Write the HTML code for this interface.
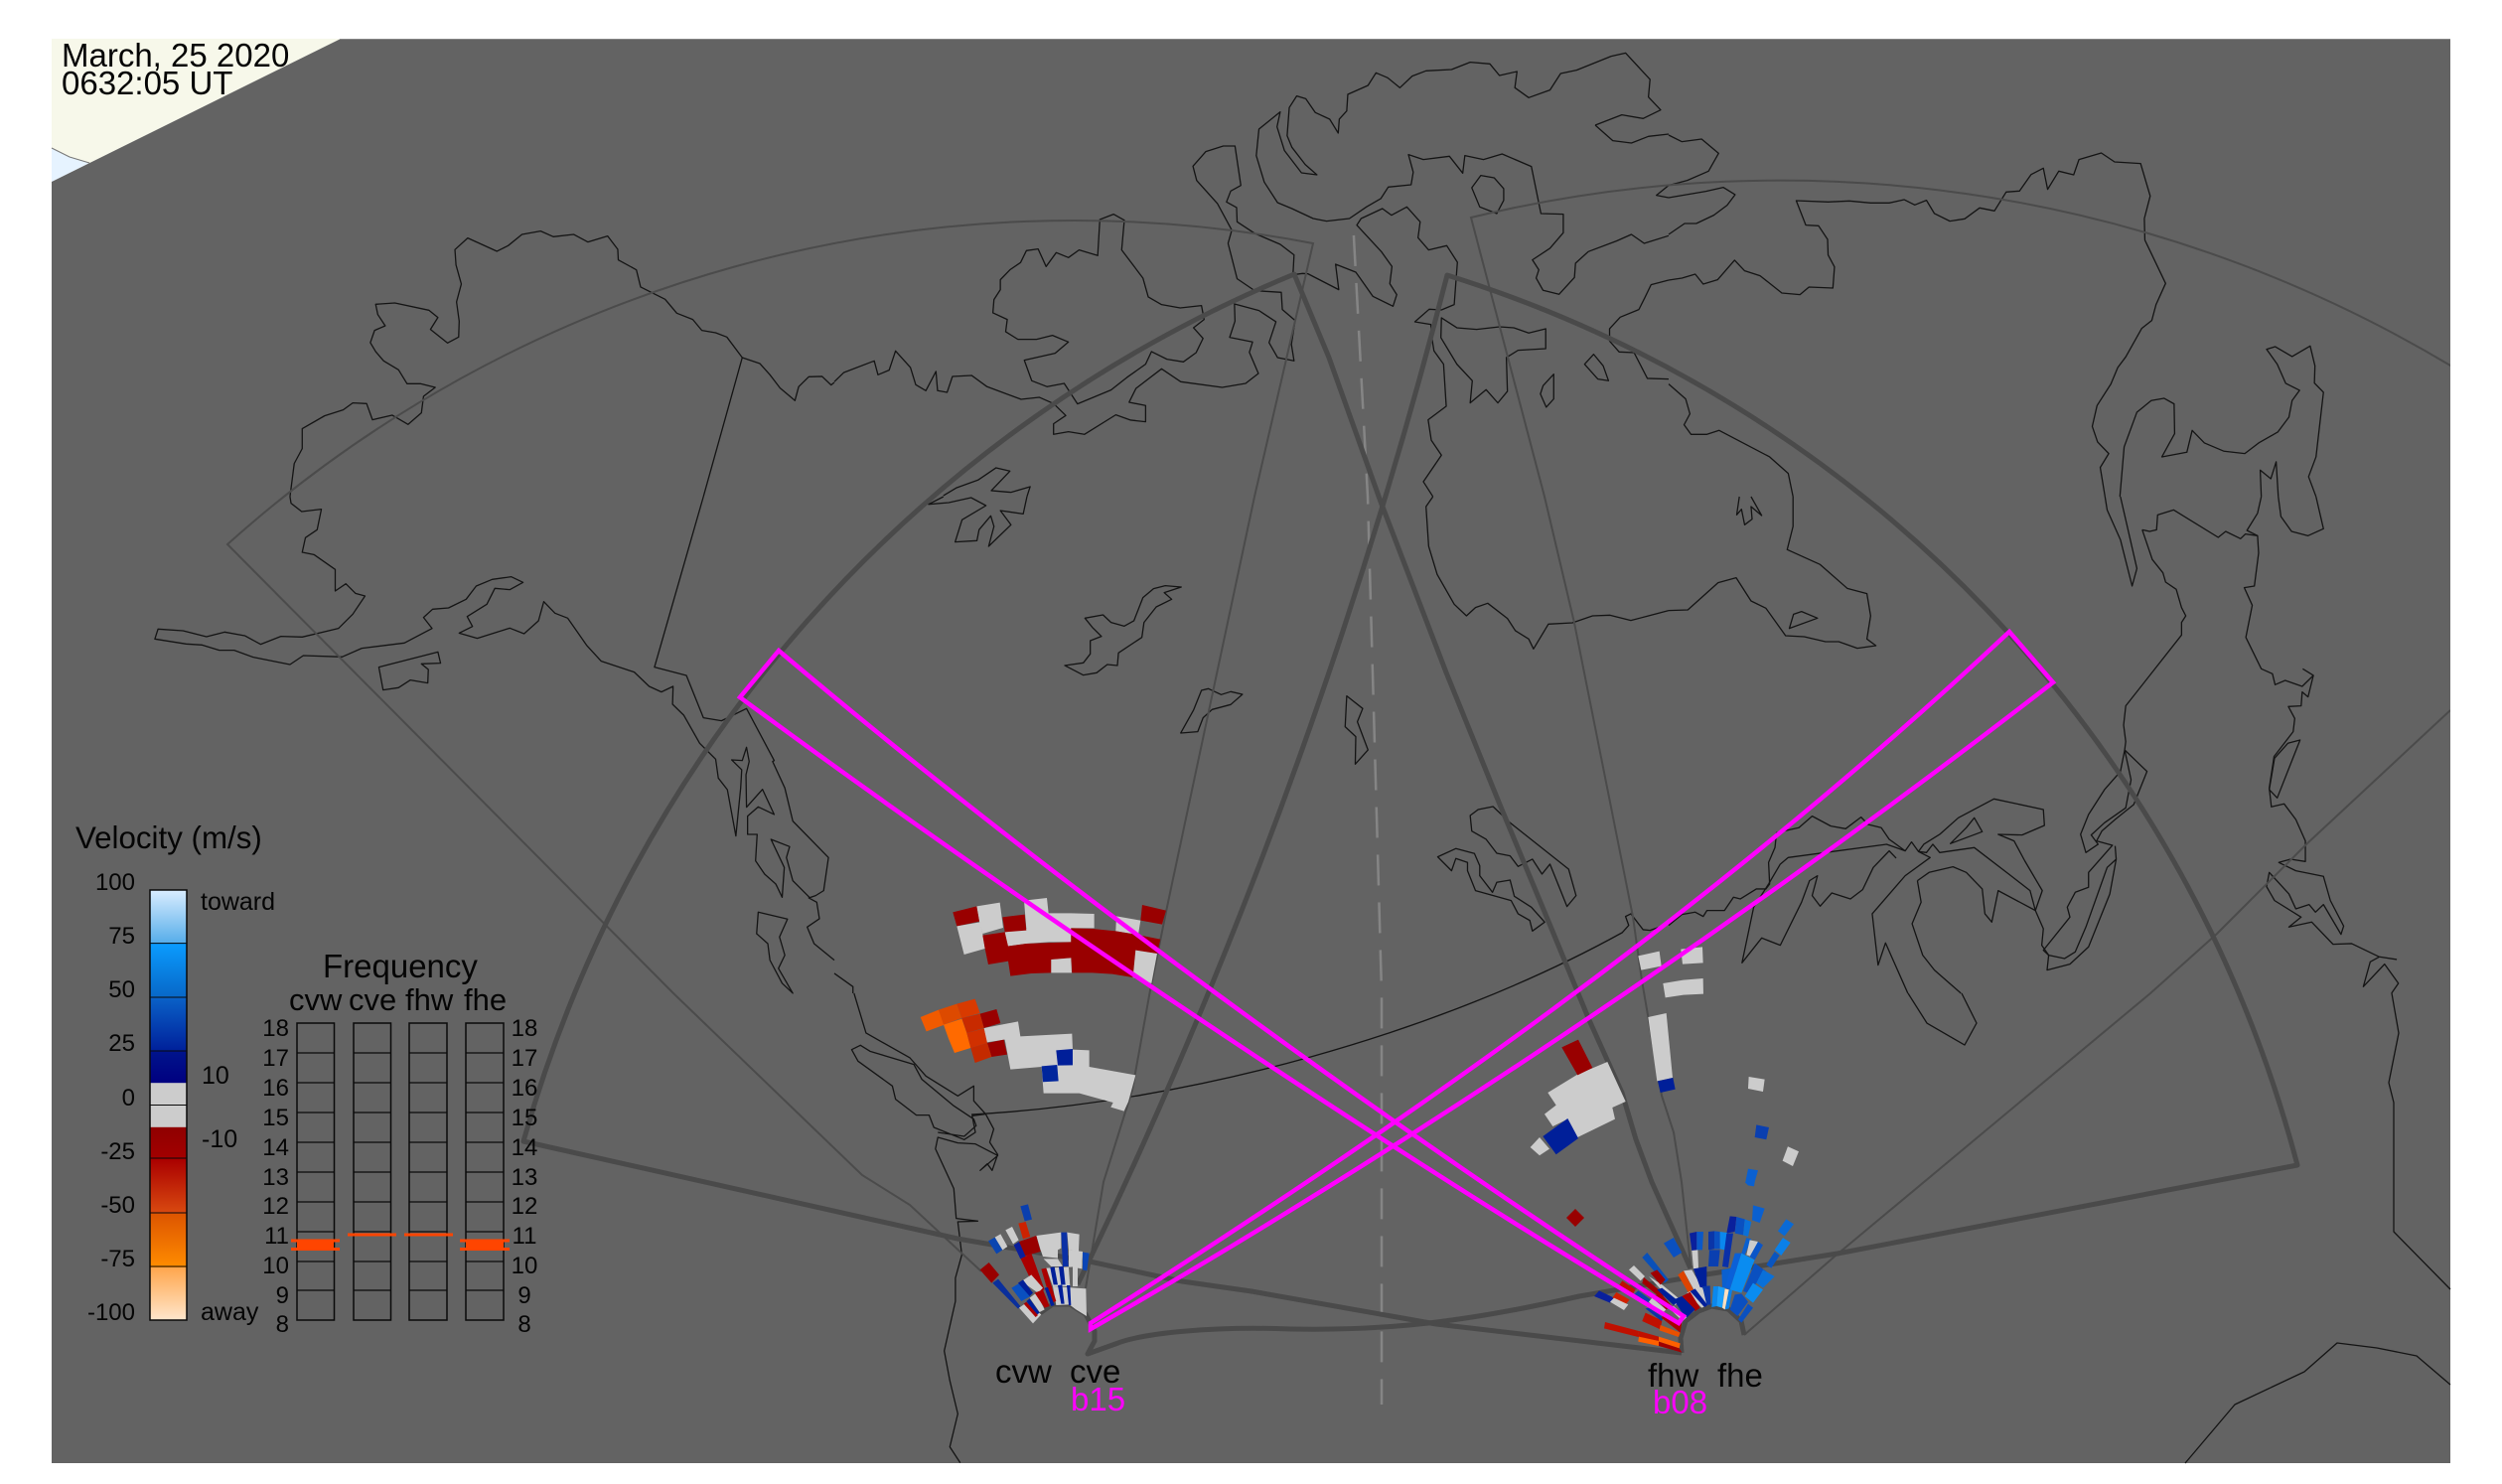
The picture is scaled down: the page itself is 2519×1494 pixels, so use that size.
<!DOCTYPE html>
<html lang="en"><head><meta charset="utf-8"><title>March, 25 2020 0632:05 UT</title>
<style>
html,body{margin:0;padding:0;background:#fff;width:2519px;height:1494px;overflow:hidden}
svg{display:block}
text{font-family:"Liberation Sans",sans-serif;fill:#050505}
.c polyline,.c polygon,.c path{fill:none;stroke:#141414;stroke-width:1.3;vector-effect:non-scaling-stroke;stroke-linejoin:round}
.th{fill:none;stroke:#4a4a4a;stroke-width:5;stroke-linejoin:round}
.tn{fill:none;stroke:#4b4b4b;stroke-width:2}
.m{fill:none;stroke:#ff00ff;stroke-width:4.500;stroke-linejoin:miter}
.box{fill:none;stroke:#0a0a0a;stroke-width:1.5}
</style></head><body>
<svg width="2519" height="1494" viewBox="0 0 2519 1494" xmlns="http://www.w3.org/2000/svg">
<defs>
<linearGradient id="cb" gradientUnits="userSpaceOnUse" x1="0" y1="896" x2="0" y2="1329">
<stop offset="0" stop-color="#d9edff"/><stop offset=".122" stop-color="#58aeea"/>
<stop offset=".123" stop-color="#0a9cff"/><stop offset=".248" stop-color="#0868c8"/>
<stop offset=".249" stop-color="#0a62c8"/><stop offset=".374" stop-color="#00209a"/>
<stop offset=".375" stop-color="#00148c"/><stop offset=".448" stop-color="#000080"/>
<stop offset=".449" stop-color="#cccccc"/><stop offset=".551" stop-color="#cccccc"/>
<stop offset=".552" stop-color="#8f0000"/><stop offset=".625" stop-color="#a30000"/>
<stop offset=".626" stop-color="#aa0000"/><stop offset=".752" stop-color="#d94a10"/>
<stop offset=".753" stop-color="#dd5500"/><stop offset=".877" stop-color="#ff8c00"/>
<stop offset=".878" stop-color="#ffa64d"/><stop offset="1" stop-color="#ffe6cc"/>
</linearGradient>
<clipPath id="pl"><rect x="52" y="39" width="2415" height="1434"/></clipPath>
</defs>
<rect width="2519" height="1494" fill="#fff"/>
<polygon points="52,39 343,39 52,183" fill="#f7f8ea"/>
<polygon points="52,149 70,158 90,164 52,183" fill="#e6f3ff"/>
<polyline points="52,149 70,158 90,164" fill="none" stroke="#777" stroke-width="1"/>
<polygon points="343,39 2467,39 2467,1473 52,1473 52,183" fill="#636363"/>
<line x1="343" y1="39.5" x2="2467" y2="39.5" stroke="#858585" stroke-width="1"/>

<!-- coastlines -->
<g class="c">
<g transform="scale(.5357,.3333)">
<polyline points="545,1500 553,1400 568,1355 568,1295 610,1256 645,1238 663,1217 689,1219 700,1268 737,1254 767,1282 792,1247 796,1197 818,1170 790,1159 765,1159 749,1117 721,1090 706,1062 696,1035 704,998 724,984 710,950 706,919 742,915 806,937 823,959 809,995 841,1036 862,1018 863,970 858,912 867,858 857,800 855,754 879,719 934,759 955,742 981,708 1016,698 1040,715 1078,708 1105,731 1142,713 1161,753 1162,785 1196,815 1204,867 1250,904 1272,946 1302,965 1319,998 1345,1005 1366,1018 1395,1080 1428,1098 1447,1132 1466,1172 1494,1210 1501,1168 1520,1138 1545,1137 1562,1163 1568,1155"/>
<polyline points="1395,1080 1322,1500"/>
</g>
<g transform="translate(840,0) scale(.5357,.3333)">
<polyline points="0,1153 18,1125 75,1090 82,1132 103,1118 115,1060 143,1110 153,1162 172,1180 191,1122 194,1180 212,1185 222,1137 258,1134 287,1168 351,1206 385,1200 412,1219 435,1255 412,1280 412,1312 440,1304 470,1312 529,1253 557,1269 585,1274 585,1225 554,1215 567,1173 615,1114 651,1153 729,1170 773,1158 797,1128 780,1064 786,1033 743,1019 753,970 752,918 798,938 830,972 817,1035 833,1080 864,1090 859,1040 866,968 842,935 840,883 790,878 757,842 740,735 747,695 720,615 681,545 674,502 698,458 731,441 753,441 764,560 745,577 737,610 756,627 757,670 790,705 838,738 864,770 862,830 880,826 890,827 948,875 942,798 980,822 988,840 1012,895 1050,925 1057,890 1044,857 1048,805 1028,760 982,680 990,660 1030,630 1047,650 1076,625 1101,670 1097,718 1117,755 1151,742 1171,792 1165,920 1141,936 1118,934 1091,972 1121,980 1124,1030 1127,1060 1145,1100 1150,1227 1116,1268 1122,1330 1141,1375 1107,1455 1125,1500"/>
<polygon points="1141,960 1170,990 1207,995 1250,987 1277,990 1305,1006 1337,993 1337,1053 1285,1058 1263,1080 1265,1182 1247,1217 1225,1177 1195,1217 1199,1150 1170,1100 1140,1020"/>
<polyline points="1430,378 1480,347 1520,358 1553,332 1530,293 1533,240 1487,160 1460,170 1395,212 1365,222 1345,272 1305,295 1279,265 1283,216 1250,228 1232,193 1195,188 1160,210 1112,214 1086,230 1063,265 1040,235 1018,220 1003,258 965,285 963,335 949,360 947,402 931,360 904,340 886,298 869,290 855,325 851,410 860,445 885,497 907,528 878,522 846,455 832,383 838,338 798,390 793,470 808,550 833,612 860,630 900,660 925,668 968,660 1000,625 1027,600 1041,565 1084,558 1088,520 1079,467 1107,482 1156,472 1181,523 1185,470 1220,482 1255,465 1310,503 1328,645 1370,647 1370,703 1345,750 1312,785 1324,815 1319,840 1332,877 1362,889 1391,838 1393,795 1417,760 1470,728 1498,708 1522,735 1568,712"/>
<polyline points="1568,597 1545,590 1568,560"/>
<polyline points="1568,405 1530,412 1498,432 1463,425 1430,378"/>
<polygon points="1198,567 1215,530 1240,537 1258,570 1258,605 1245,645 1213,625"/>
<polygon points="1427,1070 1410,1100 1435,1145 1455,1150 1445,1105"/>
<polygon points="1352,1130 1332,1165 1327,1190 1338,1230 1352,1205"/>
<polygon points="495,772 460,755 440,778 417,763 398,805 383,752 361,757 350,793 330,815 312,845 312,875 300,905 298,945 325,965 322,1002 345,1025 380,1025 410,1013 440,1033 415,1067 357,1088 371,1150 400,1168 432,1158 457,1220 520,1178 550,1140 585,1100 596,1062 625,1085 656,1093 680,1065 693,1022 675,990 695,965 690,923 650,930 615,920 590,897 580,840 540,755 545,665 525,647 499,663"/>
<polyline points="205,1497 230,1473 270,1450 304,1413 330,1423 295,1482 332,1487 368,1470 362,1500"/>
<polyline points="1568,1145 1528,1143 1503,1065 1475,1063 1457,1030 1457,993 1477,958 1512,935 1523,900 1535,860 1568,846"/>
</g>
<g transform="translate(1680,0) scale(.5351,.3333)">
<polyline points="0,708 30,675 52,675 85,650 110,620 125,588 103,566 70,578 0,597"/>
<polyline points="0,560 35,545 75,517 94,463 62,420 25,428 0,408"/>
<polyline points="234,1500 225,1430 190,1380 95,1300 72,1312 42,1312 29,1283 40,1250 32,1205 0,1160"/>
<polyline points="0,846 25,840 50,828 65,858 92,845 124,786 143,818 172,833 213,885 247,890 264,867 309,870 312,806 300,770 299,723 282,682 258,680 240,606 300,610 340,607 380,613 415,613 443,603 463,619 485,605 500,645 529,668 557,661 585,628 613,637 635,580 660,577 682,527 705,508 713,572 734,517 762,528 772,482 814,462 839,489 888,494 906,592 895,660 896,725 935,856 917,920 909,968 890,992 860,1078 845,1110 832,1160 806,1225 797,1288 807,1335 828,1370 812,1412 821,1500"/>
<polyline points="849,1500 857,1350 881,1245 908,1210 932,1203 951,1220 952,1310 928,1380 975,1366 985,1300 1008,1338 1045,1363 1084,1370 1110,1338 1146,1305 1167,1260 1173,1210 1187,1179 1161,1158 1145,1100 1125,1055 1141,1047 1173,1077 1207,1045 1216,1105 1215,1157 1232,1185 1218,1380 1204,1440 1218,1500"/>
<polyline points="1147,1500 1143,1395 1133,1446 1113,1420 1115,1500"/>
</g>
<g transform="translate(0,500) scale(.5357,.3333)">
<polyline points="545,0 547,20 567,45 604,38 596,100 574,124 568,168 590,175 630,220 630,285 650,263 668,292 686,300 663,355 636,398 568,424 528,422 490,446 460,420 422,409 388,423 344,405 297,400 291,430 350,445 380,448 412,464 440,464 476,485 545,507 570,480 643,484 680,458 760,442 812,398 796,365 813,340 843,336 876,310 895,270 925,250 961,242 983,259 958,281 930,277 915,325 878,362 888,392 863,412 897,428 958,397 985,414 1012,375 1022,317 1043,352 1067,367 1103,450 1130,497 1192,530 1220,573 1243,590 1265,573 1264,627 1285,660 1315,745 1345,793 1350,850 1367,885 1383,1025 1392,880 1394,825 1375,795 1395,797 1403,757 1408,800 1402,840 1403,938 1433,884 1455,960 1425,937 1405,965 1405,1020 1423,1020 1420,1100 1437,1140 1458,1170 1470,1210 1474,1120 1449,1035 1484,1057 1478,1090 1490,1160 1523,1213"/>
<polyline points="1322,0 1230,515 1290,540 1322,668 1356,677 1403,640 1455,797 1452,800 1475,880 1490,980 1557,1090 1548,1190 1533,1205 1520,1212 1535,1225 1540,1275 1517,1300 1530,1350 1568,1400"/>
<polygon points="712,515 823,469 828,503 792,505 805,522 804,563 771,554 749,577 720,584"/>
<polygon points="1425,1255 1480,1276 1465,1330 1475,1385 1463,1425 1490,1500 1470,1470 1447,1400 1443,1350 1422,1320"/>
</g>
<g transform="translate(840,500) scale(.5357,.3333)">
<polyline points="0,1440 35,1480 35,1500"/>
<polyline points="205,0 177,23 215,18 257,3 285,27 240,70 227,137 268,133 272,100 294,58 300,90 290,150 332,85 312,42 355,52 362,0"/>
<polygon points="471,367 505,357 520,380 545,391 563,375 580,305 600,278 622,269 652,273 620,290 634,310 605,333 582,380 578,425 534,472 532,510 513,507 493,532 468,539 433,510 468,502 481,475 481,435 502,422 485,395"/>
<polygon points="690,585 703,580 727,598 745,589 767,597 745,628 710,643 693,668 683,710 651,714 675,645"/>
<polygon points="963,602 993,640 983,680 1003,765 979,808 980,725 960,695"/>
<polyline points="1125,0 1112,30 1117,150 1133,235 1165,325 1188,360 1205,335 1228,322 1265,368 1280,405 1305,430 1314,460 1342,385 1387,381 1425,360 1458,358 1497,374 1530,360 1568,344"/>
<polygon points="1195,963 1210,945 1238,936 1270,985 1380,1125 1394,1205 1377,1238 1345,1110 1330,1140 1312,1095 1285,1117 1270,1085 1245,1077 1225,1035 1198,1010"/>
<polygon points="1134,1088 1168,1063 1203,1078 1213,1115 1213,1145 1237,1195 1245,1165 1270,1158 1278,1207 1310,1240 1335,1285 1312,1312 1307,1280 1285,1260 1272,1220 1205,1190 1190,1130 1190,1105 1168,1093 1160,1130"/>
<polyline points="1480,1318 1493,1295 1487,1268 1497,1260 1520,1308 1533,1310 1568,1290"/>
</g>
<g transform="translate(1680,500) scale(.5351,.3333)">
<polyline points="0,344 36,342 93,260 127,245 155,315 183,337 220,420 255,423 295,438 320,438 355,458 390,450 373,430 380,360 373,293 336,277 285,205 223,160 234,90 234,0"/>
<polyline points="821,0 825,40 850,130 872,270 881,217 850,0"/>
<polyline points="1218,0 1232,97 1203,118 1172,105 1152,60 1147,0"/>
<polyline points="1115,0 1108,50 1088,102 1108,118"/>
<polyline points="133,0 128,55 137,38 143,85 157,68 155,30 175,57 155,0"/>
<polygon points="250,347 280,367 227,398 235,355"/>
<polyline points="891,100 905,105 918,100 920,55 950,40 1034,123 1048,105 1076,127 1085,113 1108,118 1110,170 1102,270 1083,275 1098,328 1086,425 1115,520 1136,535 1141,568 1160,555 1192,573 1213,540 1193,520"/>
<polyline points="1213,540 1203,605 1192,590 1190,632 1166,634 1178,670 1175,710 1139,785 1130,880 1134,937 1158,928 1180,975 1198,1040 1198,1102 1170,1095 1148,1105 1180,1130 1232,1147 1245,1220 1270,1297 1265,1322 1232,1232 1217,1255 1205,1232 1180,1245 1167,1200 1130,1135 1125,1178 1140,1220 1190,1270 1167,1300 1210,1285 1250,1352 1285,1350 1337,1390 1370,1398"/>
<polyline points="1337,1390 1320,1405 1307,1480 1347,1412 1373,1470 1360,1500"/>
<polyline points="891,100 910,190 930,230 935,258 955,280 965,335 973,360 965,380 965,418 860,632 856,690 860,740 858,765 850,830 820,885 790,960 775,1020 785,1075 808,1050 795,1022 820,985 860,940 870,855 858,765 900,830 885,890 875,930 840,975 815,1010 805,1040 835,1053 790,1135 790,1180 765,1195 750,1240 755,1270 705,1370 715,1385 745,1395 765,1375 785,1300 825,1120 842,1095 840,1055"/>
<polyline points="715,1385 712,1430 755,1412 790,1360 830,1200 842,1095"/>
<polygon points="1188,735 1165,745 1140,790 1130,885 1145,910"/>
<polyline points="0,1295 25,1262 50,1255 65,1268 72,1250 105,1250 122,1210 135,1215 165,1185 183,1185 190,1170 188,1105 200,1060 203,1015 245,1000 270,965 305,995 333,1003 362,968 375,990 400,1000 415,1035 445,1070 457,1043 470,1072 492,1090 445,1145 383,1260 394,1415 408,1348 450,1500"/>
<polyline points="188,1170 210,1110 225,1090 410,1050 445,1070"/>
<polyline points="188,1170 160,1240 138,1408 175,1333 210,1355 250,1225 265,1160 280,1145 270,1205 285,1237 307,1197 342,1215 365,1187 385,1120 415,1070 428,1092"/>
<polyline points="470,1072 485,1075 497,1050 510,1075 575,1060 640,1140 680,1190 690,1250 705,1305 702,1355 715,1385"/>
<polyline points="468,1160 490,1135 535,1118 560,1135 590,1185 595,1260 608,1285 620,1190 690,1250 703,1190 670,1100 650,1040 620,1020 665,1022 707,993 705,945 612,913 545,970 510,1020 480,1050 470,1072"/>
<polyline points="468,1160 475,1225 458,1290 478,1385 500,1430 550,1500"/>
<polygon points="575,970 590,1012 530,1048 560,1000"/>
</g>
<g transform="translate(0,1000) scale(.8036,.3333)">
<polyline points="1070,0 1085,120 1140,195 1160,250 1200,310 1220,280 1220,325 1235,365 1245,410 1240,450 1250,487 1243,535 1237,515 1228,535 1250,490 1222,455 1200,452 1175,435 1172,470 1195,590 1198,680 1225,688 1200,690 1205,790 1197,860 1197,930 1183,1080 1190,1170 1200,1270 1190,1370 1203,1418"/>
<polyline points="1175,420 1208,432 1223,400 1220,380 1195,340 1155,260 1145,215 1090,175 1078,157 1067,170 1075,205 1118,280 1122,320 1148,368 1164,368 1170,405 1208,442 1222,420 1218,370 1235,365"/>
</g>
<path d="M978,1122 C1200,1110 1450,1040 1633,939"/>
<polyline points="1921,1000 1940,1030 1978,1052 1990,1030 1975,1000"/>
<polyline points="2408,1000 2415,1040 2405,1090 2410,1110 2410,1240 2467,1298"/>
<polyline points="2200,1473 2250,1414 2320,1381 2353,1352 2393,1357 2433,1365 2467,1394"/>
</g>

<!-- dashed centre meridian -->
<polyline points="1362,220 1377,500 1391,1000 1391,1414" fill="none" stroke="#858585" stroke-width="2.5" stroke-dasharray="31 17" stroke-dashoffset="-17"/>

<!-- thin FOV outlines -->
<g clip-path="url(#pl)">
<path class="tn" d="M988,1280 L916,1213 868,1183 678,1000 229,548 A1276,1276 0 0 1 1322,245 L1263,500 1175,913 1158,997 1140,1097 1111,1190 1093,1297"/>
<path class="tn" d="M1702,1273 L1693,1190 1685,1140 1673,1103 1653,987 1644,923 1585,627 1555,500 1481,219 A1315,1315 0 0 1 2490,382"/>
<polyline class="tn" points="2467,715 2322,850 2232,940 2165,1000 1847,1265 1756,1344"/>
</g>

<!-- thick FOV outlines -->
<path class="th" d="M1085,1293 A5400,5400 0 0 0 1457,277 A1279,1279 0 0 1 2313,1173 L1850,1262 1718,1283 1590,1305 C1480,1330 1400,1340 1300,1338 C1220,1335 1150,1342 1123,1353 L1095,1363 1102,1350 1102,1340 1093,1323 1077,1313 1060,1313 1047,1322"/>
<polyline class="th" points="1693,1362 1692,1347 1697,1330 1710,1320 1723,1315 1740,1318 1753,1330 1756,1344"/>
<path class="th" d="M1693,1362 L1446,1333 1260,1300 1190,1290 1097,1270 964,1247 527,1149 A1335,1335 0 0 1 1303,276 L1338,360 1390,505 1456,677 1510,810 1560,930 1600,1027 1633,1100 1647,1147 1663,1190 1702,1277"/>

<!-- mid data blobs -->
<g transform="translate(900,880) scale(.3333)">
<g fill="#ccc">
<polygon points="250,97 320,86 330,162 268,180 258,143"/>
<polygon points="190,157 260,145 268,180 275,225 212,243"/>
<polygon points="393,80 462,72 467,118 535,118 605,120 605,163 535,163 535,205 468,205 400,210 342,218 335,175 400,165"/>
<polygon points="672,127 745,140 738,183 670,172"/>
<polygon points="272,465 375,445 382,490 538,482 540,530 590,532 590,582 730,607 708,688 695,716 655,704 662,690 560,662 452,662 446,582 352,590 335,500 280,508"/>
</g>
<g fill="#990000">
<polygon points="178,115 250,97 258,143 190,157"/>
<polygon points="268,185 335,175 345,218 350,262 285,273 275,225"/>
<polygon points="328,130 395,122 400,170 335,175"/>
<polygon points="342,218 400,210 535,205 535,163 600,165 670,172 735,183 805,197 795,240 730,230 722,312 660,302 600,298 538,298 535,253 475,258 475,298 415,300 352,308 345,262"/>
<polygon points="750,93 822,110 810,152 745,140"/>
<polygon points="260,422 310,408 322,450 272,465"/>
<polygon points="282,510 332,500 342,545 295,552"/>
</g>
<polygon fill="#ccc" points="475,258 535,253 537,298 475,298"/>
<polygon fill="#ccc" points="730,230 795,240 778,330 722,312"/>
<polygon fill="#f05a00" points="80,432 135,410 153,455 98,475"/>
<polygon fill="#dd4a00" points="135,410 190,392 205,435 150,455"/>
<polygon fill="#d83a00" points="190,392 245,377 260,420 205,435"/>
<polygon fill="#c82a00" points="205,435 260,422 272,465 220,480"/>
<polygon fill="#ff6a00" points="150,455 205,437 220,480 232,525 183,540 165,497"/>
<polygon fill="#d03000" points="220,480 272,466 282,510 232,525"/>
<polygon fill="#c42a00" points="232,525 282,510 295,552 245,570"/>
<polygon fill="#001f99" points="490,532 540,528 540,577 495,578"/>
<polygon fill="#00259c" points="446,580 493,576 497,625 450,628"/>
</g>

<!-- right scattered -->
<g transform="translate(1520,930) scale(.3333)">
<g fill="#ccc">
<polygon points="388,97 452,83 458,128 397,140"/>
<polygon points="517,77 582,70 584,118 522,122"/>
<polygon points="463,180 524,170 584,165 585,212 525,215 470,223"/>
<polygon points="418,282 473,270 492,465 445,475"/>
<polygon points="115,510 205,455 295,417 350,537 310,555 318,590 205,645 175,590 130,612 105,575 140,548"/>
<polygon points="62,675 90,645 120,680 90,700"/>
<polygon points="722,462 770,470 765,507 720,498"/>
<polygon points="840,673 873,688 855,732 824,716"/>
</g>
<polygon fill="#001f99" points="447,475 493,465 500,500 455,510"/>
<polygon fill="#990000" points="157,373 207,350 250,435 205,457"/>
<polygon fill="#001f99" points="100,642 175,588 207,648 140,697"/>
<polygon fill="#0a3fb0" points="745,607 783,615 775,652 740,645"/>
<polygon fill="#0a60d0" points="720,740 750,745 740,780 712,780"/>
</g>
<polygon fill="#990000" points="1577,1226 1586,1217 1595,1226 1586,1235"/>

<!-- cve / cvw fan -->
<g transform="translate(950,1190) scale(.3333)">
<polygon fill="#0a3fae" points="232,73 255,67 267,113 245,118"/>
<polygon fill="#cc2200" points="226,125 248,120 262,165 240,172"/>
<polygon fill="#0a45b0" points="135,178 155,167 178,205 160,217"/>
<polygon fill="#ccc" points="155,167 172,157 193,195 178,205"/>
<polygon fill="#ccc" points="187,145 207,135 227,175 210,187"/>
<polygon fill="#ccc" points="280,162 355,152 355,200 345,205 345,230 300,225 293,205"/>
<polygon fill="#990000" points="228,180 280,162 293,210 240,225"/>
<polygon fill="#0a1f9c" points="212,190 228,180 248,225 232,232"/>
<polygon fill="#990000" points="110,265 137,243 168,280 145,305"/>
<polygon fill="#0a2f9c" points="148,305 165,293 232,375 225,383"/>
<polygon fill="#0a30a5" points="355,152 373,152 377,255 360,255"/>
<polygon fill="#ccc" points="373,152 410,158 408,210 378,205"/>
<polygon fill="#ccc" points="378,205 420,210 418,262 378,255"/>
<polygon fill="#0a45b5" points="420,212 440,215 433,268 420,265"/>
<polygon fill="#ccc" points="302,232 345,232 360,255 325,255"/>
<polygon fill="#ccc" points="310,260 405,255 405,315 330,315"/>
<polygon fill="#001f99" points="322,258 335,256 345,310 332,310"/>
<polygon fill="#001f99" points="348,256 362,254 368,310 355,310"/>
<polygon fill="#636363" points="378,258 390,256 390,315 382,315"/>
<polygon fill="#ccc" points="330,315 430,322 432,405 400,385 380,370 340,372"/>
<polygon fill="#aa0000" points="233,232 265,215 305,325 280,330"/>
<polygon fill="#aa0000" points="295,263 310,260 340,360 325,365"/>
<polygon fill="#ccc" points="235,300 265,280 300,320 285,335"/>
<polygon fill="#0a50c0" points="205,320 230,305 262,345 235,360"/>
<polygon fill="#001f99" points="225,305 240,295 270,335 260,345"/>
<polygon fill="#001f99" points="345,312 358,310 365,368 355,368"/>
<polygon fill="#001f99" points="372,312 382,312 385,372 378,372"/>
<polygon fill="#ccc" points="228,380 250,365 295,400 270,427"/>
<polygon fill="#ccc" points="260,350 280,335 305,385 290,393"/>
<polygon fill="#001f99" points="305,320 315,318 335,372 325,375"/>
<polygon fill="#aa0000" points="275,335 300,325 320,375 305,380"/>
<polygon fill="#001f99" points="250,360 260,352 290,395 280,402"/>
<polygon fill="#aa0000" points="242,368 250,362 285,402 278,408"/>
</g>

<!-- fhw / fhe fan -->
<g transform="translate(1590,1190) scale(.3333)">
<polygon fill="#0a60d0" points="525,70 560,80 545,123 522,115"/>
<polygon fill="#0a60d0" points="500,0 530,0 528,13 510,10"/>
<polygon fill="#0a6ad5" points="625,112 648,127 620,163 600,148"/>
<polygon fill="#0a80e8" points="615,168 638,183 610,222 590,205"/>
<polygon fill="#0a55c0" points="590,210 605,222 580,260 565,250"/>
<polygon fill="#0a209c" points="455,103 475,105 470,150 445,155"/>
<polygon fill="#0a50c0" points="475,105 500,112 495,160 470,155"/>
<polygon fill="#0a70d8" points="500,112 520,120 510,165 495,160"/>
<polygon fill="#0a35a8" points="390,150 408,148 408,202 390,205"/>
<polygon fill="#0a50c0" points="408,148 425,150 425,202 408,202"/>
<polygon fill="#0a88ee" points="425,150 447,153 440,205 425,202"/>
<polygon fill="#0a3fb0" points="393,205 425,205 420,255 390,255"/>
<polygon fill="#0a30a8" points="445,155 465,155 450,258 432,255"/>
<polygon fill="#0a209c" points="333,155 355,150 355,205 340,207"/>
<polygon fill="#0a58c8" points="355,150 375,150 372,205 355,205"/>
<polygon fill="#ccc" points="340,207 358,205 360,260 345,262"/>
<polygon fill="#0a50c0" points="255,185 285,168 310,213 285,228"/>
<polygon fill="#0a50b8" points="205,213 270,295 258,305 190,228"/>
<polygon fill="#ccc" points="165,252 198,285 185,298 150,265"/>
<polygon fill="#ccc" points="210,285 250,310 305,355 290,372"/>
<polygon fill="#a00000" points="215,275 235,265 260,295 245,310"/>
<polygon fill="#a00000" points="195,288 258,340 245,350 190,305"/>
<polygon fill="#ccc" points="315,268 340,265 395,360 375,378"/>
<polygon fill="#dd4400" points="298,280 315,268 355,345 340,352"/>
<polygon fill="#001f99" points="345,262 385,255 385,320 365,318"/>
<polygon fill="#0a35a8" points="372,315 395,313 397,370 385,372"/>
<polygon fill="#0a88ee" points="405,315 420,315 415,375 400,378"/>
<polygon fill="#1aa0ff" points="420,315 440,320 432,380 415,375"/>
<polygon fill="#0a80e8" points="452,325 462,327 452,382 440,385"/>
<polygon fill="#ffe0c0" points="440,322 452,325 440,385 432,380"/>
<polygon fill="#0a60d0" points="430,265 460,260 450,320 432,318"/>
<polygon fill="#0a60d8" points="470,215 490,215 455,325 440,320"/>
<polygon fill="#0a8cf0" points="490,215 530,235 490,335 455,325"/>
<polygon fill="#0a60d0" points="505,168 520,172 500,220 490,215"/>
<polygon fill="#ccc" points="515,175 540,180 520,225 505,220"/>
<polygon fill="#0a55c8" points="540,180 555,190 530,235 515,225"/>
<polygon fill="#0a50c0" points="530,245 565,270 510,335 495,330"/>
<polygon fill="#0a70d8" points="555,265 590,285 555,320 535,305"/>
<polygon fill="#0a8cf0" points="525,305 555,325 525,365 500,345"/>
<polygon fill="#0a4fc0" points="470,340 490,337 510,362 478,405 455,385"/>
<polygon fill="#0a50c0" points="510,368 525,380 490,425 480,415"/>
<polygon fill="#ccc" points="325,335 345,325 388,372 370,380"/>
<polygon fill="#001f99" points="335,330 350,322 388,372 378,378"/>
<polygon fill="#aa0000" points="310,345 335,332 365,380 350,390"/>
<polygon fill="#001f99" points="285,355 310,345 350,385 322,412"/>
<polygon fill="#ccc" points="270,380 285,375 325,408 312,420"/>
<polygon fill="#001f99" points="235,325 250,320 300,360 285,372"/>
<polygon fill="#a00000" points="225,345 245,335 280,375 262,385"/>
<polygon fill="#0a209c" points="45,345 60,328 105,350 93,365"/>
<polygon fill="#d02000" points="100,350 112,333 152,355 140,370"/>
<polygon fill="#ccc" points="93,362 105,350 148,370 135,387"/>
<polygon fill="#c01000" points="118,315 130,298 170,325 160,340"/>
<polygon fill="#0a3fb0" points="165,340 178,328 215,355 205,368"/>
<polygon fill="#ccc" points="210,362 220,350 262,385 250,397"/>
<polygon fill="#c01000" points="190,420 200,395 250,418 245,445"/>
<polygon fill="#0a35a8" points="200,382 210,380 255,410 248,420"/>
<polygon fill="#aa0000" points="248,410 260,395 310,425 305,455"/>
<polygon fill="#e85000" points="245,432 305,455 300,468 242,448"/>
<polygon fill="#c01000" points="78,423 180,450 178,468 75,442"/>
<polygon fill="#c01000" points="180,450 240,467 240,480 178,468"/>
<polygon fill="#ff6000" points="180,467 240,480 240,495 178,482"/>
<polygon fill="#ff6000" points="240,467 305,487 302,502 240,482"/>
<polygon fill="#a00000" points="240,482 302,502 310,515 240,495"/>
</g>

<!-- magenta beams -->
<path class="m" d="M1098,1332 C1400,1140 1720,920 2023,636 L2067,687 C1740,940 1400,1165 1098,1338 Z"/>
<path class="m" d="M1695,1325 C1400,1135 1050,880 784,655 L745,702 C1020,905 1400,1160 1690,1332 Z"/>

<!-- date -->
<text x="62" y="67" font-size="33">March, 25 2020</text>
<text x="62" y="95" font-size="33">0632:05 UT</text>

<!-- velocity legend -->
<text x="76" y="854" font-size="31.300">Velocity (m/s)</text>
<rect x="151" y="896" width="37" height="433" fill="url(#cb)"/>
<g stroke="#0a0a0a" stroke-width="1">
<line x1="151" x2="188" y1="949.6" y2="949.6"/><line x1="151" x2="188" y1="1004" y2="1004"/><line x1="151" x2="188" y1="1058" y2="1058"/><line x1="151" x2="188" y1="1112.5" y2="1112.5"/><line x1="151" x2="188" y1="1166" y2="1166"/><line x1="151" x2="188" y1="1221" y2="1221"/><line x1="151" x2="188" y1="1275" y2="1275"/>
</g>
<rect x="151" y="896" width="37" height="433" class="box"/>
<g font-size="24" text-anchor="end">
<text x="136" y="896">100</text><text x="136" y="950">75</text><text x="136" y="1004">50</text><text x="136" y="1058">25</text><text x="136" y="1113">0</text><text x="136" y="1167">-25</text><text x="136" y="1221">-50</text><text x="136" y="1275">-75</text><text x="136" y="1329">-100</text>
</g>
<g font-size="25">
<text x="202" y="916">toward</text><text x="203" y="1091">10</text><text x="203" y="1155">-10</text><text x="202" y="1329">away</text>
</g>

<!-- frequency legend -->
<text x="325" y="984" font-size="33">Frequency</text>
<g font-size="31">
<text x="291" y="1017">cvw</text><text x="351" y="1017">cve</text><text x="408" y="1017">fhw</text><text x="467" y="1017">fhe</text>
</g>
<g class="box">
<rect x="299" y="1030" width="37.5" height="299"/><rect x="356" y="1030" width="37.5" height="299"/><rect x="412" y="1030" width="38" height="299"/><rect x="469" y="1030" width="38" height="299"/>
</g>
<g stroke="#0a0a0a" stroke-width="1.3">
<path d="M299 1060H336.500M356 1060H393.500M412 1060H450M469 1060H507M299 1090H336.500M356 1090H393.500M412 1090H450M469 1090H507M299 1120H336.500M356 1120H393.500M412 1120H450M469 1120H507M299 1150H336.500M356 1150H393.500M412 1150H450M469 1150H507M299 1180H336.500M356 1180H393.500M412 1180H450M469 1180H507M299 1210H336.500M356 1210H393.500M412 1210H450M469 1210H507M299 1240H336.500M356 1240H393.500M412 1240H450M469 1240H507M299 1270H336.500M356 1270H393.500M412 1270H450M469 1270H507M299 1299H336.500M356 1299H393.500M412 1299H450M469 1299H507"/>
</g>
<g fill="#ff4500">
<rect x="299" y="1247.500" width="37" height="11.500"/><rect x="293" y="1247.500" width="49" height="3"/><rect x="293" y="1256" width="49" height="3"/>
<rect x="469" y="1247.500" width="38" height="11.500"/><rect x="463" y="1247.500" width="50" height="3"/><rect x="463" y="1256" width="50" height="3"/>
<rect x="350" y="1241.500" width="49" height="3"/><rect x="407" y="1241.500" width="49" height="3"/>
</g>
<g font-size="24" text-anchor="end">
<text x="291" y="1043">18</text><text x="291" y="1073">17</text><text x="291" y="1103">16</text><text x="291" y="1133">15</text><text x="291" y="1163">14</text><text x="291" y="1193">13</text><text x="291" y="1222">12</text><text x="291" y="1252">11</text><text x="291" y="1282">10</text><text x="291" y="1312">9</text><text x="291" y="1341">8</text>
</g>
<g font-size="24" text-anchor="middle">
<text x="528" y="1043">18</text><text x="528" y="1073">17</text><text x="528" y="1103">16</text><text x="528" y="1133">15</text><text x="528" y="1163">14</text><text x="528" y="1193">13</text><text x="528" y="1222">12</text><text x="528" y="1252">11</text><text x="528" y="1282">10</text><text x="528" y="1312">9</text><text x="528" y="1341">8</text>
</g>

<!-- radar labels -->
<g font-size="33">
<text x="1002" y="1392">cvw</text><text x="1077" y="1392">cve</text>
<text x="1659" y="1396">fhw</text><text x="1729" y="1396">fhe</text>
<text x="1078" y="1420" style="fill:#ff00ff">b15</text>
<text x="1664" y="1423" style="fill:#ff00ff">b08</text>
</g>
</svg>
</body></html>
